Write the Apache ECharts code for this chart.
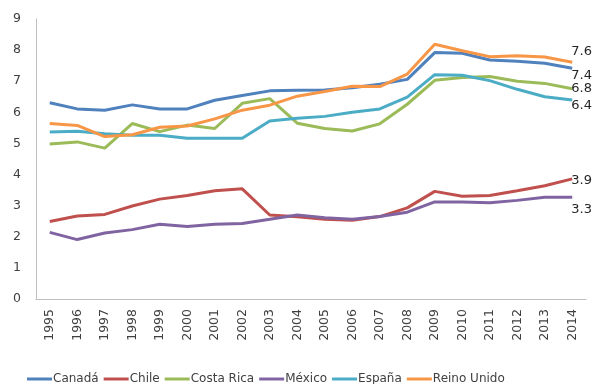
<!DOCTYPE html>
<html><head><meta charset="utf-8">
<script src="https://cdn.jsdelivr.net/npm/echarts@6/dist/echarts.min.js"></script>
<style>html,body{margin:0;padding:0;background:#fff}#c{width:593px;height:384px}</style>
</head><body><div id="c"></div>
<script>
const years = ['1995','1996','1997','1998','1999','2000','2001','2002','2003','2004','2005','2006','2007','2008','2009','2010','2011','2012','2013','2014'];
const canada = [6.31,6.11,6.07,6.24,6.11,6.11,6.39,6.54,6.69,6.71,6.72,6.79,6.90,7.06,7.92,7.90,7.68,7.64,7.58,7.42];
const chile = [2.49,2.67,2.72,2.99,3.21,3.33,3.48,3.54,2.70,2.64,2.56,2.53,2.65,2.93,3.46,3.30,3.33,3.48,3.64,3.86];
const costaRica = [4.98,5.05,4.85,5.64,5.38,5.59,5.48,6.29,6.44,5.65,5.48,5.40,5.63,6.26,7.03,7.12,7.15,7.00,6.93,6.76];
const mexico = [2.14,1.91,2.12,2.23,2.40,2.33,2.40,2.43,2.56,2.70,2.61,2.56,2.65,2.79,3.12,3.12,3.09,3.17,3.27,3.27];
const espana = [5.37,5.39,5.31,5.26,5.26,5.17,5.17,5.17,5.72,5.81,5.87,6.00,6.11,6.49,7.21,7.19,7.02,6.74,6.50,6.40];
const reinoUnido = [5.64,5.58,5.22,5.28,5.52,5.56,5.79,6.07,6.23,6.52,6.67,6.84,6.83,7.23,8.19,7.98,7.79,7.82,7.78,7.61];
const endLabels = ['7.4','3.9','6.8','3.3','6.4','7.6'];
const names = ['Canadá','Chile','Costa Rica','México','España','Reino Unido'];
const colors = ['#4F81BD','#C0504D','#9BBB59','#8064A2','#4BACC6','#F79646'];
const labelShift = [7, 2, 0, 12, 6, -11];
const allData = [canada, chile, costaRica, mexico, espana, reinoUnido];
const FONT = '"DejaVu Sans", Verdana, sans-serif';

const series = allData.map((arr, k) => ({
  name: names[k],
  type: 'line',
  symbol: 'circle',
  symbolSize: 0.01,
  showSymbol: true,
  smooth: false,
  lineStyle: { width: 3, color: colors[k] },
  itemStyle: { color: colors[k] },
  data: arr,
  label: {
    show: true, position: [-1, labelShift[k]], align: 'left', verticalAlign: 'middle',
    formatter: p => p.dataIndex === arr.length - 1 ? endLabels[k] : '',
    color: '#262626', fontSize: 13, fontFamily: FONT
  },
  labelLayout: { hideOverlap: false },
  emphasis: { disabled: true },
  animation: false
}));

const chart = echarts.init(document.getElementById('c'), null, { renderer: 'canvas' });
chart.setOption({
  animation: false,
  color: colors,
  grid: { left: 36, right: 7, top: 19, bottom: 85 },
  xAxis: {
    type: 'category', data: years, boundaryGap: true,
    axisLine: { lineStyle: { color: '#BFBFBF', width: 1 } },
    axisTick: { show: false },
    axisLabel: { rotate: 90, margin: 10, color: '#404040', fontSize: 12.5, fontFamily: FONT, interval: 0 }
  },
  yAxis: {
    type: 'value', min: 0, max: 9, interval: 1,
    axisLine: { show: true, lineStyle: { color: '#BFBFBF', width: 1 } },
    axisTick: { show: false },
    splitLine: { show: false },
    axisLabel: { margin: 15, color: '#404040', fontSize: 12.5, fontFamily: FONT }
  },
  legend: {
    data: names, top: 368, left: 22,
    icon: 'rect', itemWidth: 25, itemHeight: 3, itemGap: 5,
    textStyle: { color: '#404040', fontSize: 12, fontFamily: FONT, padding: [0,0,0,-4] }
  },
  series: series
});
</script></body></html>
